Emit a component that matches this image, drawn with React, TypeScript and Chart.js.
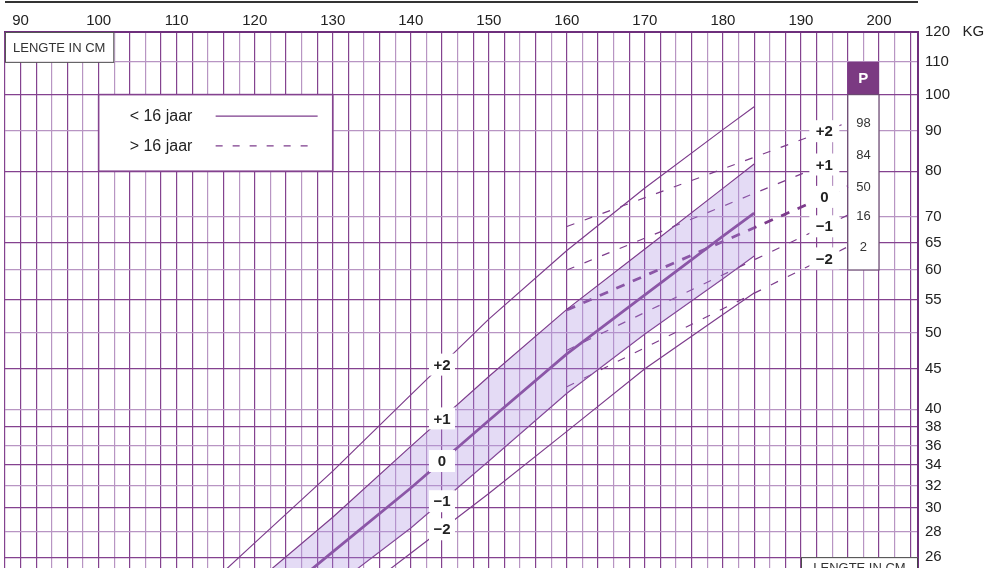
import { useEffect, useRef } from 'react';
import { Chart, registerables } from 'chart.js';

Chart.register(...registerables);

// ---------- data ----------
const solidHeights = [115, 120, 130, 140, 150, 160, 170, 180, 184];
const solidPlus2 = [24.4, 27.1, 33.4, 41.7, 52.0, 63.5, 76.2, 90.3, 96.5];
const solidPlus1 = [21.9, 24.1, 29.2, 35.9, 44.0, 53.5, 63.8, 76.1, 81.7];
const solidMedian = [19.9, 21.9, 26.4, 31.8, 38.7, 47.0, 55.8, 66.2, 70.8];
const solidMin1 = [18.3, 20.0, 23.8, 28.3, 34.4, 41.9, 49.8, 58.5, 62.5];
const solidMin2 = [17.0, 18.5, 22.1, 26.3, 31.3, 37.5, 45.0, 52.7, 56.1];

const dashedHeights = [160, 178, 196];
const dashedPlus2 = [68.1, 79.2, 92.2];
const dashedPlus1 = [60.0, 70.9, 83.9];
const dashedMedian = [53.4, 63.9, 76.5];
const dashedMin1 = [47.5, 57.9, 70.4];
const dashedMin2 = [42.7, 52.4, 64.2];

const xTickLabels = [90, 100, 110, 120, 130, 140, 150, 160, 170, 180, 190, 200];
const yTickValues = [26, 28, 30, 32, 34, 36, 38, 40, 45, 50, 55, 60, 65, 70, 80, 90, 100, 110, 120];
const sdLabels = ['+2', '+1', '0', '\u22121', '\u22122'];
const percentileLabels = ['98', '84', '50', '16', '2'];
const legendLabels = ['< 16 jaar', '> 16 jaar'];
const axisTitle = 'LENGTE IN CM';
const unitLabel = 'KG';
const solidLabelAt = 144;
const dashedLabelAt = 193;

// ---------- styles ----------
const FONT = '"Liberation Sans", Arial, Helvetica, sans-serif';
const LINE = '#7d3c8c';
const GRID_DARK = '#84428f';
const GRID_LIGHT = '#b895c3';
const BAND = 'rgba(172,144,224,0.32)';
const TEXT = '#222';

const xMin = 88;
const xMax = 205;
const yMin = 25.19;
const yMax = 120;
const xGridValues: number[] = [];
for (let v = xMin; v < xMax; v += 2) xGridValues.push(v);

const solidSeries = [solidPlus2, solidPlus1, solidMedian, solidMin1, solidMin2];
const dashedSeries = [dashedPlus2, dashedPlus1, dashedMedian, dashedMin1, dashedMin2];
const toPts = (xs: number[], ys: number[]) => xs.map((x, i) => ({ x, y: ys[i] }));

function interpPixel(yScale: any, xs: number[], ys: number[], at: number) {
  let i = 0;
  while (i < xs.length - 2 && at > xs[i + 1]) i++;
  const t = (at - xs[i]) / (xs[i + 1] - xs[i]);
  const p0 = yScale.getPixelForValue(ys[i]);
  const p1 = yScale.getPixelForValue(ys[i + 1]);
  return p0 + t * (p1 - p0);
}

const overlayPlugin = {
  id: 'overlays',
  beforeDatasetsDraw(chart: any) {
    const { ctx, scales, chartArea } = chart;
    const x = scales.x;
    const y = scales.y;
    const px = (v: number) => x.getPixelForValue(v);
    const py = (v: number) => y.getPixelForValue(v);
    ctx.save();

    // top-left axis title box
    {
      const l = px(88), r = px(102), t = py(120), b = py(110);
      ctx.fillStyle = '#fff';
      ctx.fillRect(l, t + 1, r - l, b - t - 1);
      ctx.strokeStyle = '#555';
      ctx.lineWidth = 1;
      ctx.strokeRect(l + 0.5, t + 0.5, r - l - 1, b - t);
      ctx.fillStyle = '#333';
      ctx.font = `13px ${FONT}`;
      ctx.textAlign = 'left';
      ctx.textBaseline = 'middle';
      ctx.fillText(axisTitle, l + 8, (t + b) / 2 + 1);
    }

    // legend box
    {
      const l = px(100), r = px(130), t = py(100), b = py(80);
      const h = b - t;
      ctx.fillStyle = '#fff';
      ctx.fillRect(l, t, r - l, h);
      ctx.strokeStyle = GRID_DARK;
      ctx.lineWidth = 1.6;
      ctx.strokeRect(l, t, r - l, h);
      ctx.fillStyle = TEXT;
      ctx.font = `16px ${FONT}`;
      ctx.textAlign = 'left';
      ctx.textBaseline = 'middle';
      const rows = [t + 0.28 * h, t + 0.67 * h];
      legendLabels.forEach((lab, k) => ctx.fillText(lab, l + 31, rows[k] + 1));
      ctx.strokeStyle = LINE;
      ctx.lineWidth = 1.2;
      ctx.beginPath();
      ctx.moveTo(l + 117, rows[0]);
      ctx.lineTo(l + 219, rows[0]);
      ctx.stroke();
      ctx.setLineDash([7, 10]);
      ctx.beginPath();
      ctx.moveTo(l + 117, rows[1]);
      ctx.lineTo(l + 212, rows[1]);
      ctx.stroke();
      ctx.setLineDash([]);
    }

    // percentile box
    {
      const l = px(196), r = px(200), t = py(110), m = py(100), b = py(60);
      ctx.fillStyle = '#7b3a82';
      ctx.fillRect(l, t, r - l, m - t);
      ctx.fillStyle = '#fff';
      ctx.fillRect(l, m, r - l, b - m);
      ctx.strokeStyle = '#6a4a70';
      ctx.lineWidth = 1.2;
      ctx.strokeRect(l, m, r - l, b - m);
      ctx.fillStyle = '#fff';
      ctx.font = `bold 15px ${FONT}`;
      ctx.textAlign = 'center';
      ctx.textBaseline = 'middle';
      ctx.fillText('P', (l + r) / 2, (t + m) / 2 + 1);
      ctx.fillStyle = '#333';
      ctx.font = `13px ${FONT}`;
      dashedSeries.forEach((s, k) => {
        ctx.fillText(percentileLabels[k], (l + r) / 2, py(s[s.length - 1]) + 1);
      });
    }

    // bottom-right axis title box
    {
      const l = px(190), r = px(205), t = py(26), b = chartArea.bottom + 4;
      ctx.fillStyle = '#fff';
      ctx.fillRect(l, t, r - l, b - t);
      ctx.strokeStyle = '#444';
      ctx.lineWidth = 1;
      ctx.strokeRect(l + 0.5, t + 0.5, r - l - 1, b - t);
      ctx.fillStyle = '#333';
      ctx.font = `13px ${FONT}`;
      ctx.textAlign = 'center';
      ctx.textBaseline = 'alphabetic';
      ctx.fillText(axisTitle, (l + r) / 2, t + 14.5);
    }
    ctx.restore();
  },
  afterDatasetsDraw(chart: any) {
    const { ctx, scales } = chart;
    const x = scales.x;
    const y = scales.y;
    ctx.save();
    const draw = (xs: number[], series: number[][], at: number, w: number) => {
      series.forEach((s, k) => {
        const cx = x.getPixelForValue(at);
        const cy = interpPixel(y, xs, s, at);
        ctx.fillStyle = '#fff';
        ctx.fillRect(cx - w / 2, cy - 11, w, 22);
        ctx.fillStyle = TEXT;
        ctx.font = `bold 15px ${FONT}`;
        ctx.textAlign = 'center';
        ctx.textBaseline = 'middle';
        ctx.fillText(sdLabels[k], cx, cy + 1);
      });
    };
    draw(solidHeights, solidSeries, solidLabelAt, 26);
    draw(dashedHeights, dashedSeries, dashedLabelAt, 30);
    ctx.restore();
  },
};

export default function App() {
  const ref = useRef<HTMLCanvasElement>(null);

  useEffect(() => {
    if (!ref.current) return;
    Chart.defaults.font.family = FONT;
    const datasets: any[] = [
      ...solidSeries.map((s, i) => ({
        data: toPts(solidHeights, s),
        borderColor: LINE,
        borderWidth: i === 2 ? 2.8 : 1.2,
        pointRadius: 0,
        tension: 0,
        fill: i === 1 ? 3 : false,
        backgroundColor: BAND,
      })),
      ...dashedSeries.map((s, i) => ({
        data: toPts(dashedHeights, s),
        borderColor: LINE,
        borderWidth: i === 2 ? 2.8 : 1.2,
        borderDash: i === 2 ? [9, 9] : [8, 11],
        pointRadius: 0,
        tension: 0,
        fill: false,
      })),
    ];

    const chart = new Chart(ref.current, {
      type: 'line',
      data: { datasets },
      plugins: [overlayPlugin],
      options: {
        responsive: false,
        animation: false,
        events: [],
        layout: { padding: { left: 5, right: 0, top: 0, bottom: 0 } },
        plugins: { legend: { display: false }, tooltip: { enabled: false } },
        scales: {
          x: {
            type: 'linear',
            position: 'top',
            min: xMin,
            max: xMax,
            bounds: 'data',
            afterBuildTicks: (s: any) => {
              s.ticks = xGridValues.map((v) => ({ value: v }));
            },
            afterFit: (s: any) => {
              s.height = 32;
              s.paddingLeft = 0;
              s.paddingRight = 0;
              s.paddingTop = 0;
              s.paddingBottom = 0;
            },
            ticks: {
              autoSkip: false,
              maxRotation: 0,
              padding: 2,
              color: TEXT,
              font: { size: 15, family: FONT },
              callback: (v: any) => (xTickLabels.includes(Number(v)) ? String(v) : ''),
            },
            grid: {
              drawTicks: false,
              lineWidth: 1.2,
              color: (c: any) =>
                (c.tick && c.tick.value % 10 === 0) || c.index % 2 === 0 ? GRID_DARK : GRID_LIGHT,
            },
            border: { display: true, color: '#6e2f7c', width: 2 },
          },
          y: {
            type: 'logarithmic',
            position: 'right',
            min: yMin,
            max: yMax,
            bounds: 'data',
            afterBuildTicks: (s: any) => {
              s.ticks = yTickValues.map((v) => ({ value: v }));
            },
            afterFit: (s: any) => {
              s.width = 69;
              s.paddingLeft = 0;
              s.paddingRight = 0;
              s.paddingTop = 0;
              s.paddingBottom = 0;
            },
            ticks: {
              autoSkip: false,
              padding: 7,
              color: TEXT,
              font: { size: 15, family: FONT },
              callback: (v: any) => (Number(v) === yMax ? `${v}   ${unitLabel}` : String(v)),
            },
            grid: {
              drawTicks: false,
              lineWidth: 1.2,
              color: (c: any) => (c.index % 2 === 0 ? GRID_DARK : GRID_LIGHT),
            },
            border: { display: true, color: '#6e2f7c', width: 2 },
          },
        },
      } as any,
    });
    return () => chart.destroy();
  }, []);

  return (
    <div
      style={{
        position: 'absolute',
        left: 0,
        top: 0,
        width: 987,
        height: 568,
        background: '#fff',
        overflow: 'hidden',
      }}
    >
      <div
        style={{
          position: 'absolute',
          left: 5,
          top: 1,
          width: 913,
          height: 0,
          borderTop: '2px solid #333',
        }}
      />
      <canvas
        ref={ref}
        width={987}
        height={568}
        style={{ position: 'absolute', left: 0, top: 0, width: 987, height: 568 }}
      />
    </div>
  );
}
